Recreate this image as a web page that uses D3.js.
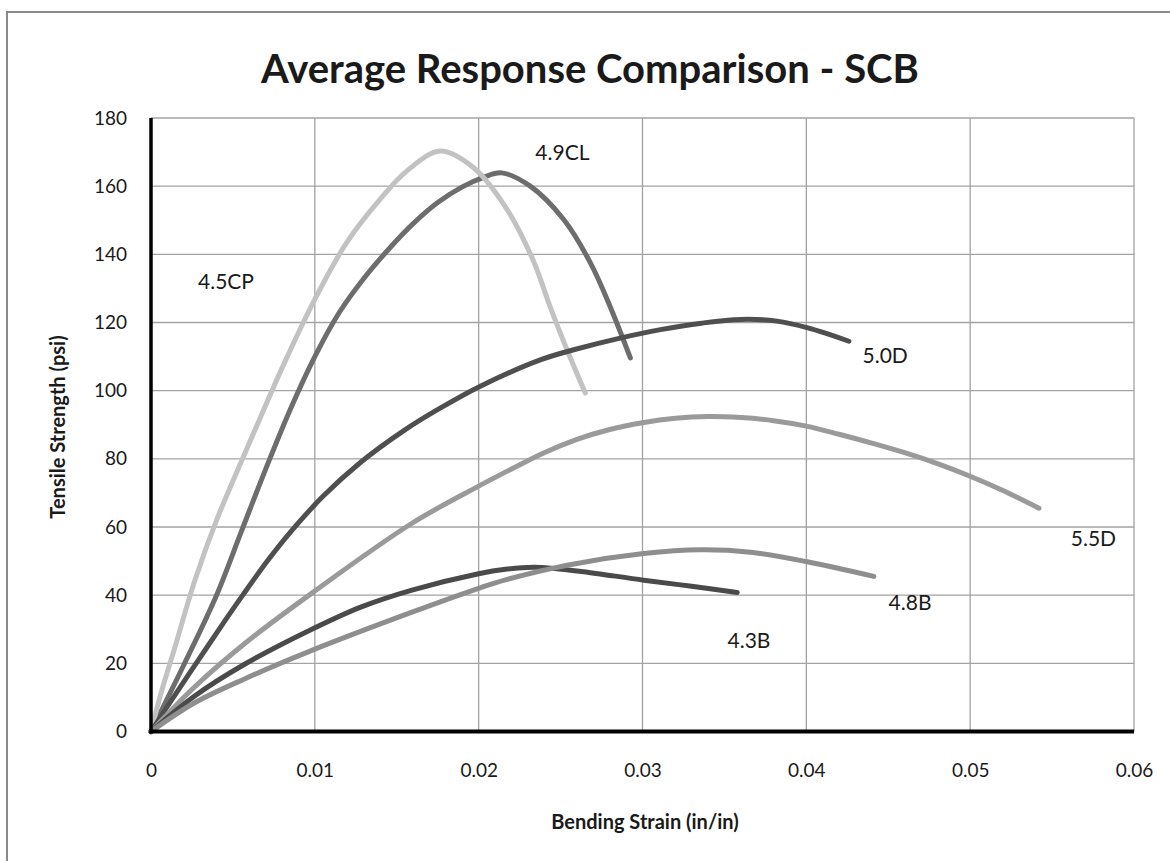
<!DOCTYPE html>
<html>
<head>
<meta charset="utf-8">
<script src="https://cdn.jsdelivr.net/npm/d3@7"></script>
<style>
  html, body { margin: 0; padding: 0; background: #fff; }
  svg { display: block; }
  text { font-family: Lato, "Open Sans", sans-serif; fill: #1a1a1a; }
</style>
</head>
<body>
<svg id="chart" width="1170" height="861"></svg>
<script>
// Average SCB response curves: bending strain (in/in) vs tensile strength (psi)
const xTicks = [0, 0.01, 0.02, 0.03, 0.04, 0.05, 0.06];
const yTicks = [0, 20, 40, 60, 80, 100, 120, 140, 160, 180];

const strain49CL = [0, 0.002, 0.004, 0.0055, 0.007, 0.0085, 0.01, 0.0115, 0.013, 0.0146, 0.016, 0.0175, 0.019, 0.0203, 0.0214, 0.02315, 0.02519, 0.02682, 0.02804, 0.02926];
const stress49CL = [0, 19.5, 40, 58.5, 77, 94.5, 110, 123, 133, 142, 149, 155.2, 159.8, 162.6, 163.9, 160, 150.2, 137.5, 124.5, 109.6];

const strain45CP = [0, 0.00055, 0.00147, 0.00269, 0.00401, 0.00635, 0.00808, 0.01002, 0.01195, 0.01399, 0.01562, 0.01765, 0.01969, 0.02173, 0.02335, 0.02437, 0.02539, 0.02651];
const stress45CP = [0, 10.2, 24.9, 44.5, 62.1, 88.5, 107.5, 127, 143.5, 156.2, 164.5, 170.3, 165.4, 153.2, 138, 124.5, 112, 99.3];

const strain50D = [0, 0.0015, 0.0029, 0.0043, 0.0056, 0.0071, 0.0086, 0.0105, 0.0128, 0.0155, 0.0177, 0.0201, 0.0238, 0.0258, 0.0287, 0.0311, 0.0336, 0.036, 0.0382, 0.0401, 0.0426];
const stress50D = [0, 11, 21, 31, 40, 50, 59, 69, 79, 88.5, 95, 101.3, 109.1, 112, 115.5, 117.9, 119.8, 120.9, 120.4, 118.4, 114.5];

const strain55D = [0, 0.00269, 0.00574, 0.00982, 0.01593, 0.02, 0.022, 0.024, 0.026, 0.028, 0.03, 0.032, 0.034, 0.036, 0.038, 0.04, 0.042, 0.044, 0.046, 0.048, 0.05, 0.052, 0.0542];
const stress55D = [0, 13.2, 25.9, 40.6, 61.1, 72, 77, 81.8, 85.7, 88.6, 90.6, 91.9, 92.4, 92.1, 91.2, 89.6, 87.2, 84.6, 81.8, 78.6, 74.9, 70.7, 65.5];

const strain43B = [0, 0.00269, 0.00574, 0.00982, 0.0128, 0.01593, 0.02, 0.02163, 0.02335, 0.0249, 0.02641, 0.03007, 0.033, 0.03578];
const stress43B = [0, 10.5, 19.8, 30, 36.5, 41.5, 46.3, 47.6, 48.2, 47.7, 46.9, 44.4, 42.6, 40.8];

const strain48B = [0, 0.00269, 0.00574, 0.00982, 0.01593, 0.02, 0.02163, 0.0254, 0.03007, 0.03354, 0.03659, 0.04006, 0.04412];
const stress48B = [0, 8.5, 15.5, 23.8, 35, 42, 44.5, 48.8, 52.2, 53.3, 52.6, 49.8, 45.5];

const seriesNames = ["4.9CL", "4.5CP", "5.0D", "5.5D", "4.3B", "4.8B"];
const seriesStrain = [strain49CL, strain45CP, strain50D, strain55D, strain43B, strain48B];
const seriesStress = [stress49CL, stress45CP, stress50D, stress55D, stress43B, stress48B];
const seriesColors = ["#6d6d6d", "#c2c2c2", "#4f4f4f", "#9a9a9a", "#4a4a4a", "#8e8e8e"];

// Curve labels, anchored in data units (strain, strength) at the text baseline start
const labelNames = ["4.9CL", "4.5CP", "5.0D", "5.5D", "4.8B", "4.3B"];
const labelStrain = [0.02346, 0.00287, 0.04343, 0.05614, 0.04502, 0.03519];
const labelStress = [167.8, 129.7, 108.2, 54.5, 35.7, 24.5];

const svg = d3.select("#chart");

// outer chart frame
svg.append("rect")
  .attr("x", 7).attr("y", 12).attr("width", 1300).attr("height", 1000)
  .attr("fill", "none").attr("stroke", "#8a8a8a").attr("stroke-width", 2);

const x = d3.scaleLinear().domain([0, 0.06]).range([151, 1134]);
const y = d3.scaleLinear().domain([0, 180]).range([731.5, 118]);

// gridlines
const grid = svg.append("g");
grid.selectAll("line.h").data(yTicks.filter(d => d > 0)).join("line")
  .attr("x1", x(0)).attr("x2", x(0.06))
  .attr("y1", d => y(d)).attr("y2", d => y(d))
  .attr("stroke", "#a3a3a3").attr("stroke-width", 1.3);
grid.selectAll("line.v").data(xTicks.filter(d => d > 0)).join("line")
  .attr("y1", y(0)).attr("y2", y(180))
  .attr("x1", d => x(d)).attr("x2", d => x(d))
  .attr("stroke", "#a3a3a3").attr("stroke-width", 1.3);

// axes
const xAxis = d3.axisBottom(x).tickValues(xTicks).tickSize(0).tickPadding(32)
  .tickFormat(d => d === 0 ? "0" : String(+d.toFixed(2)));
const gx = svg.append("g").attr("transform", `translate(0,${y(0)})`).call(xAxis);
gx.select(".domain").remove();
gx.selectAll("text").style("font-size", "19px").attr("fill", "#1a1a1a").style("font-family", "Lato, sans-serif");

const yAxis = d3.axisLeft(y).tickValues(yTicks).tickSize(0).tickPadding(24);
const gy = svg.append("g").attr("transform", `translate(${x(0)},0)`).call(yAxis);
gy.select(".domain").remove();
gy.selectAll("text").style("font-size", "19px").attr("fill", "#1a1a1a").style("font-family", "Lato, sans-serif");

// series lines
const line = d3.line().curve(d3.curveCatmullRom.alpha(0.5)).x(d => x(d[0])).y(d => y(d[1]));
const plot = svg.append("g");
seriesNames.forEach((name, i) => {
  const pts = seriesStrain[i].map((s, k) => [s, seriesStress[i][k]]);
  plot.append("path")
    .datum(pts)
    .attr("d", line)
    .attr("fill", "none")
    .attr("stroke", seriesColors[i])
    .attr("stroke-width", 5)
    .attr("stroke-linecap", "round")
    .attr("stroke-linejoin", "round");
});

// axis lines drawn over the curves' start
svg.append("line").attr("x1", x(0)).attr("x2", x(0)).attr("y1", y(180)).attr("y2", y(0) + 2)
  .attr("stroke", "#000").attr("stroke-width", 3.5);
svg.append("line").attr("x1", x(0) - 1.5).attr("x2", x(0.06)).attr("y1", y(0)).attr("y2", y(0))
  .attr("stroke", "#000").attr("stroke-width", 4);

// curve labels
svg.append("g").selectAll("text").data(labelNames).join("text")
  .attr("x", (d, i) => x(labelStrain[i]))
  .attr("y", (d, i) => y(labelStress[i]))
  .style("font-size", "21px")
  .text(d => d);

// title
svg.append("text")
  .attr("x", 590).attr("y", 83).attr("text-anchor", "middle")
  .style("font-size", "40px").style("font-weight", "bold")
  .text("Average Response Comparison - SCB");

// axis titles
svg.append("text")
  .attr("x", 645).attr("y", 829).attr("text-anchor", "middle")
  .style("font-size", "20px").style("font-weight", "bold")
  .text("Bending Strain (in/in)");

svg.append("text")
  .attr("transform", "translate(65,427) rotate(-90)")
  .attr("text-anchor", "middle")
  .style("font-size", "20px").style("font-weight", "bold")
  .text("Tensile Strength (psi)");
</script>
</body>
</html>
